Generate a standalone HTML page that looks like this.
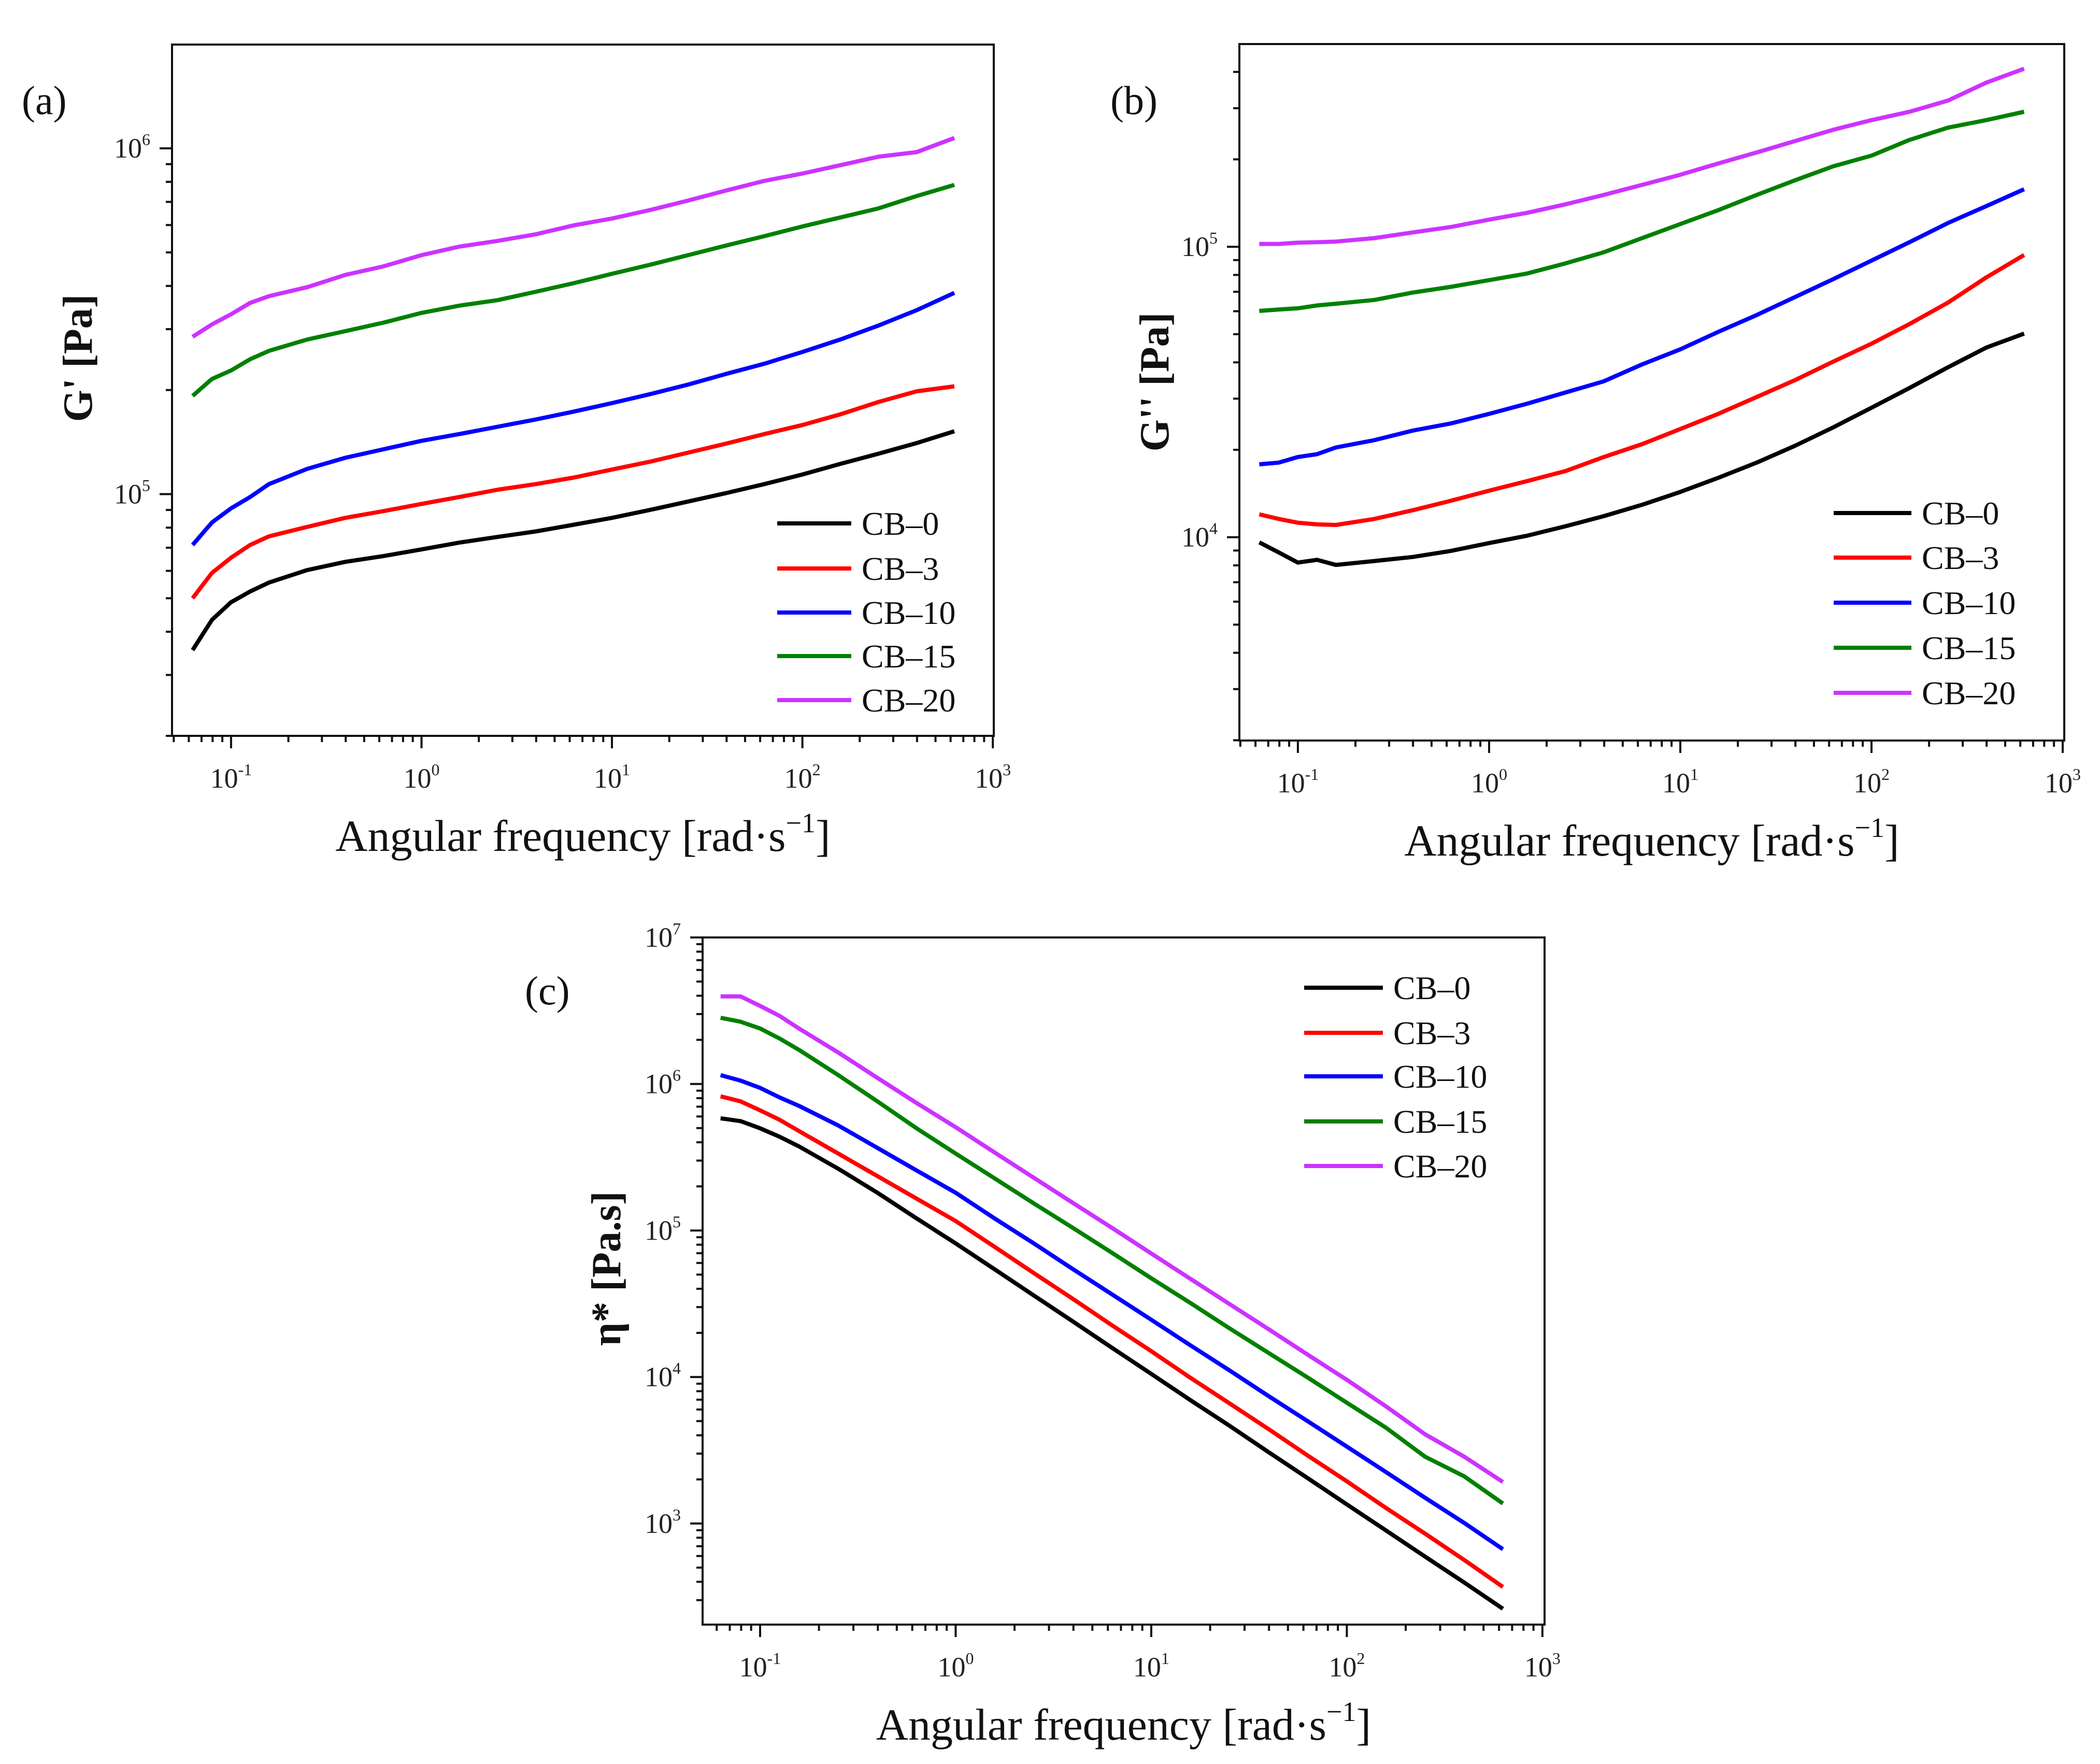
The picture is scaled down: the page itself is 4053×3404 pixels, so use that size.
<!DOCTYPE html>
<html><head><meta charset="utf-8"><style>
html,body{margin:0;padding:0;background:#fff;}
svg{display:block;font-family:"Liberation Serif",serif;}
</style></head><body>
<svg id="fig" width="4053" height="3404" viewBox="0 0 4053 3404" xmlns="http://www.w3.org/2000/svg">
<rect width="4053" height="3404" fill="#fff"/>
</svg>
<script>
const freq = [0.0628,0.0794,0.1,0.126,0.158,0.251,0.398,0.631,1,1.58,2.51,3.98,6.31,10,15.8,25.1,39.8,63.1,100,158,251,398,628];
const seriesNames = ["CB–0","CB–3","CB–10","CB–15","CB–20"];
const seriesColors = ["#000000","#ff0000","#0000ff","#008000","#cc33ff"];

const gp_cb0 = [35400,43300,48700,52300,55500,60300,63700,66200,69200,72400,75200,78000,81600,85400,90000,95200,100700,106900,114000,122300,130900,140500,152000];
const gp_cb3 = [50000,59200,65500,71300,75500,80400,85400,89300,93700,98100,103000,106900,111700,117800,124100,131800,140000,149200,158400,170100,184700,198300,205000];
const gp_cb10 = [71300,82800,91000,98100,106900,118300,127400,134800,142600,149200,156600,164400,173300,183300,194500,207400,222700,238300,257700,279900,307300,340300,382000];
const gp_cb15 = [192300,215300,227800,245500,259600,279900,296000,313300,334200,350800,363900,384800,407400,433600,460400,490900,523500,557200,594300,630900,670300,727800,783700];
const gp_cb20 = [285100,309600,331300,357300,373700,396600,430500,455600,490900,519700,539900,564200,598800,626600,662800,706300,755200,805200,845200,893600,945700,975100,1071000];

const gpp_cb0 = [9600,8860,8180,8360,8030,8280,8550,8970,9550,10120,10910,11820,12930,14320,16020,18070,20650,23890,27920,32640,38460,44950,50230];
const gpp_cb3 = [11990,11560,11220,11070,11020,11560,12380,13350,14460,15600,16900,18890,20910,23580,26590,30390,34750,40240,46390,54190,64220,78420,93660];
const gpp_cb10 = [17820,18070,18890,19320,20370,21580,23280,24650,26590,28820,31500,34420,39350,44360,50930,58210,67120,77380,89600,103700,120700,138000,157800];
const gpp_cb15 = [60140,60840,61400,62800,63680,65620,69540,72800,76740,80900,87700,95740,107100,119700,133700,150900,169400,189300,206000,233300,257200,272900,291600];
const gpp_cb20 = [102300,102300,103300,103700,104200,107100,112000,117000,124000,130900,140000,150900,163300,177000,193600,211300,231200,252900,272900,291600,318700,367300,410300];

const eta_cb0 = [583000,558000,498000,436000,375000,264000,181000,121000,81600,54400,36000,23900,15800,10500,6970,4650,3070,2040,1350,900,595,396,262];
const eta_cb3 = [824000,761000,661000,569000,477000,335000,235000,165000,116000,77400,51200,34100,22500,15000,9910,6610,4410,2910,1940,1280,853,564,369];
const eta_cb10 = [1150000,1054000,940000,809000,709000,521000,366000,257000,181000,121000,81600,54400,36600,24600,16500,11100,7410,4990,3350,2250,1500,1010,667];
const eta_cb15 = [2830000,2660000,2390000,2040000,1710000,1150000,761000,498000,335000,227000,153000,104000,70300,47200,32100,21500,14600,9910,6670,4520,2860,2100,1370];
const eta_cb20 = [3960000,3960000,3410000,2910000,2390000,1640000,1100000,741000,507000,341000,229000,154000,104000,69700,46900,31500,21200,14200,9570,6320,4070,2860,1920];

const xTickExps = [-1,0,1,2,3];
const yTickExpsA = [5,6];
const yTickExpsB = [4,5];
const yTickExpsC = [3,4,5,6,7];

const NS = "http://www.w3.org/2000/svg";
const svg = document.getElementById("fig");
function mk(tag, attrs, parent){
  const e = document.createElementNS(NS, tag);
  for (const k in attrs) e.setAttribute(k, attrs[k]);
  (parent||svg).appendChild(e);
  return e;
}
function powLabel(parent, x, y, exp, anchor){
  const t = mk("text", {x:x, y:y, "font-size":54, "text-anchor":anchor, fill:"#222"}, parent);
  const a = document.createElementNS(NS,"tspan"); a.textContent = "10"; t.appendChild(a);
  const b = document.createElementNS(NS,"tspan"); b.setAttribute("dy","-24"); b.setAttribute("font-size","32"); b.textContent = String(exp); t.appendChild(b);
  return t;
}

function panel(cfg){
  const g = mk("g", {});
  
  
  const L=cfg.left,R=cfg.right,T=cfg.top,B=cfg.bottom;
  const xs = v => L + (Math.log10(v)-cfg.xlog[0])/(cfg.xlog[1]-cfg.xlog[0])*(R-L);
  const ys = v => B - (Math.log10(v)-cfg.ylog[0])/(cfg.ylog[1]-cfg.ylog[0])*(B-T);
  // series
  const sg = mk("g", {}, g);
  
  
  cfg.series.forEach((arr,i)=>{
    const d = arr.map((v,j)=>(j?"L":"M")+xs(freq[j]).toFixed(1)+","+ys(v).toFixed(1)).join(" ");
    const p = mk("path", {d:d, fill:"none", stroke:seriesColors[i], "stroke-width":8, "stroke-linejoin":"round", "stroke-linecap":"butt"}, sg);
    
    
  });
  // frame
  const fr = mk("rect", {x:L, y:T, width:R-L, height:B-T, fill:"none", stroke:"#111", "stroke-width":4}, g);
  
  
  // x ticks
  const xa = mk("g", {}, g);
  
  
  for (let e=-2;e<=3;e++){
    for (let m=1;m<=9;m++){
      const v = m*Math.pow(10,e); const lv = Math.log10(v);
      if (lv < cfg.xlog[0]-1e-6 || lv > cfg.xlog[1]+1e-6) continue;
      const x = xs(v); const len = m===1?24:12;
      mk("line", {x1:x, y1:B, x2:x, y2:B+len, stroke:"#111", "stroke-width":4}, xa);
    }
  }
  xTickExps.forEach(e=>{
    const t = powLabel(xa, xs(Math.pow(10,e)), B+100, e, "middle");
    
    
  });
  const xt = mk("text", {x:(L+R)/2, y:B+222, "font-size":86, "text-anchor":"middle", fill:"#111"}, xa);
  
  
  xt.innerHTML = 'Angular frequency [rad·s<tspan dy="-36" font-size="54">−1</tspan><tspan dy="36">]</tspan>';
  // y ticks
  const ya = mk("g", {}, g);
  
  
  for (let e=1;e<=7;e++){
    for (let m=1;m<=9;m++){
      const v = m*Math.pow(10,e); const lv = Math.log10(v);
      if (lv < cfg.ylog[0]-1e-6 || lv > cfg.ylog[1]+1e-6) continue;
      const y = ys(v); const len = m===1?24:12;
      mk("line", {x1:L-len, y1:y, x2:L, y2:y, stroke:"#111", "stroke-width":4}, ya);
    }
  }
  cfg.yTicks.forEach(e=>{
    const t = powLabel(ya, L-42, ys(Math.pow(10,e))+18, e, "end");
    
    
  });
  const yt = mk("text", {x:0, y:0, "font-size":80, "font-weight":"bold", "text-anchor":"middle", fill:"#111",
    transform:"translate("+(cfg.ytx+28)+","+cfg.yty+") rotate(-90)"}, ya);
  
  
  yt.textContent = cfg.ytitle;
  // panel label
  const pl = mk("text", {x:cfg.lx, y:cfg.ly, "font-size":78, fill:"#111"}, g);
  
  
  pl.textContent = cfg.label;
  // legend
  const lg = mk("g", {}, g);
  
  
  cfg.legRows.forEach((ry,i)=>{
    const ln = mk("line", {x1:cfg.legX1, y1:ry, x2:cfg.legX2, y2:ry, stroke:seriesColors[i], "stroke-width":8}, lg);
    
    
    const tx = mk("text", {x:cfg.legX2+20, y:ry+22, "font-size":64, fill:"#111"}, lg);
    
    
    tx.textContent = seriesNames[i];
  });
}

panel({name:"panel-a-storage-modulus", left:332, right:1918, top:86, bottom:1420,
  xlog:[-1.31,3.005], ylog:[4.301,6.30], yTicks:yTickExpsA,
  series:[gp_cb0,gp_cb3,gp_cb10,gp_cb15,gp_cb20],
  ytitle:"G' [Pa]", ytx:149, yty:691, label:"(a)", lx:42, ly:220,
  legX1:1500, legX2:1643, legRows:[1010,1097,1182,1266,1351]});
panel({name:"panel-b-loss-modulus", left:2392, right:3984, top:85, bottom:1429,
  xlog:[-1.306,3.008], ylog:[3.30,5.698], yTicks:yTickExpsB,
  series:[gpp_cb0,gpp_cb3,gpp_cb10,gpp_cb15,gpp_cb20],
  ytitle:"G'' [Pa]", ytx:2227, yty:737, label:"(b)", lx:2143, ly:220,
  legX1:3539, legX2:3689, legRows:[990,1076,1163,1250,1337]});
panel({name:"panel-c-complex-viscosity", left:1356, right:2981, top:1809, bottom:3135,
  xlog:[-1.294,3.011], ylog:[2.31,7.0], yTicks:yTickExpsC,
  series:[eta_cb0,eta_cb3,eta_cb10,eta_cb15,eta_cb20],
  ytitle:"η* [Pa.s]", ytx:1169, yty:2448, label:"(c)", lx:1013, ly:1938,
  legX1:2517, legX2:2669, legRows:[1906,1993,2077,2164,2250]});
</script>
</body></html>
